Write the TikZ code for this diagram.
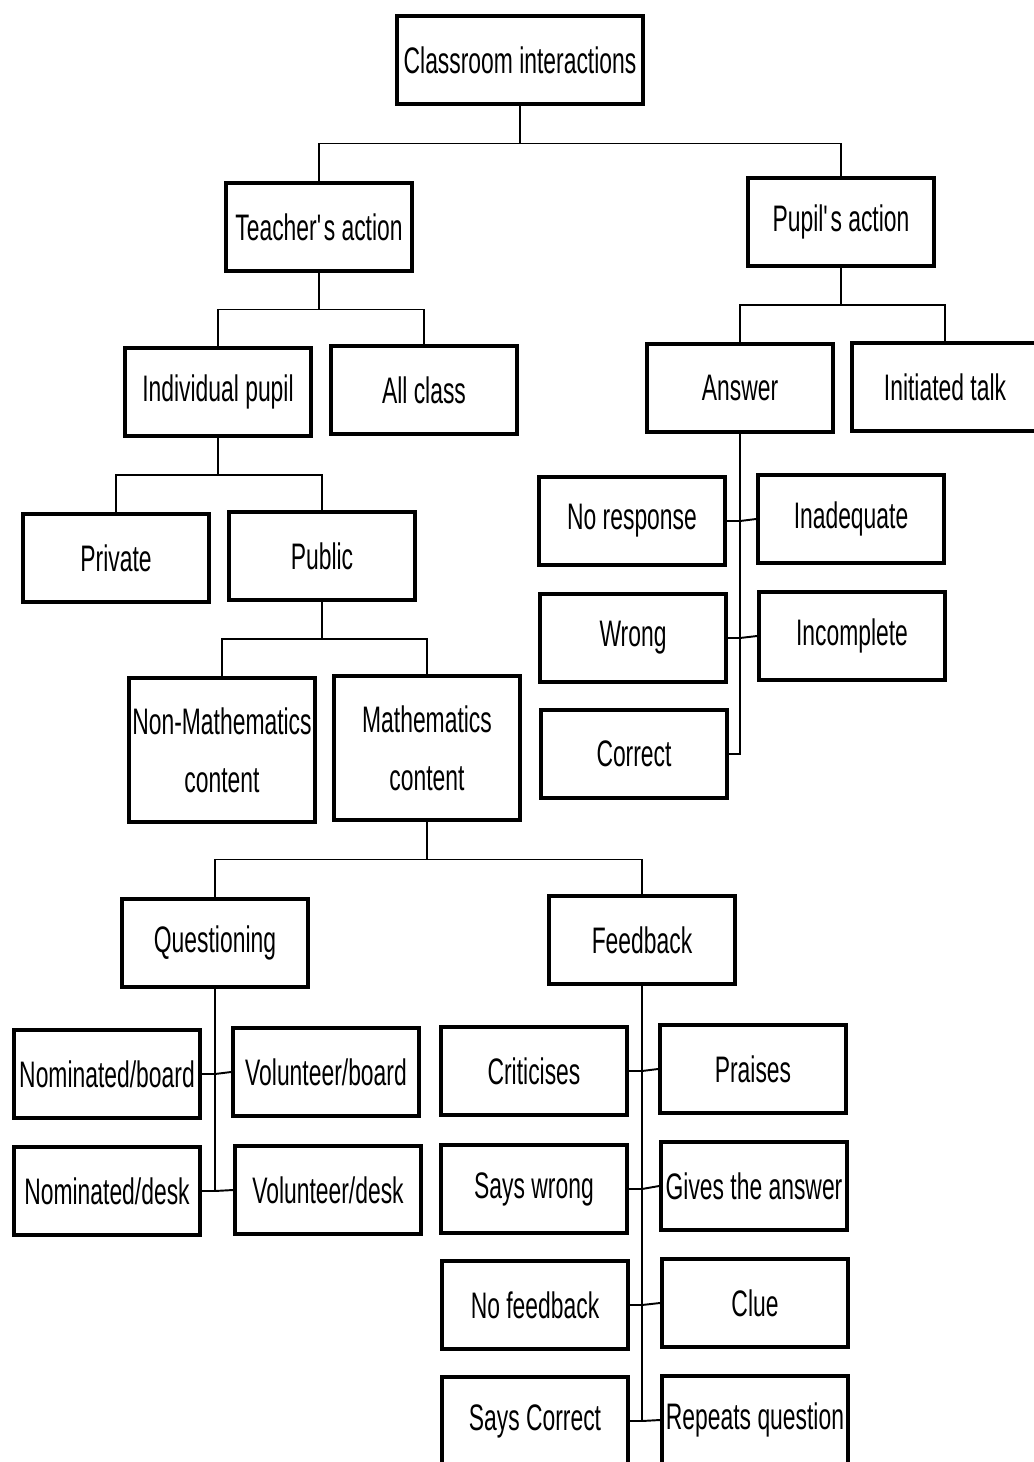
\documentclass[tikz,border=0pt]{standalone}
\usepackage{fontspec}
\setmainfont{Liberation Sans}[FakeStretch=0.62]
\usepackage{tikz}
\usetikzlibrary{positioning, calc}

\begin{document}
\begin{tikzpicture}[
    catbox/.style={rectangle, draw=black, line width=2.2pt, fill=white, minimum width=3.72cm, minimum height=1.76cm, align=center, inner sep=2pt, font=\fontsize{21}{33}\selectfont},
    tallbox/.style={catbox, minimum height=2.88cm},
    link/.style={draw=black, line width=1.1pt}
]
\useasboundingbox (0,0) rectangle (20.68,-29.24);

% Top levels
\node[catbox, minimum width=4.92cm] (root) at (10.4,-1.2) {Classroom interactions};
\node[catbox] (teacher) at (6.38,-4.54) {Teacher\textquotesingle s action};
\node[catbox] (pupil) at (16.82,-4.44) {Pupil\textquotesingle s action};

\node[catbox] (indiv) at (4.36,-7.84) {Individual pupil};
\node[catbox] (allclass) at (8.48,-7.8) {All class};
\node[catbox] (answer) at (14.8,-7.76) {Answer};
\node[catbox] (initiated) at (18.9,-7.74) {Initiated talk};

\node[catbox] (private) at (2.32,-11.16) {Private};
\node[catbox] (public) at (6.44,-11.12) {Public};

\node[tallbox] (nonmath) at (4.44,-15.0) {Non-Mathematics\\content};
\node[tallbox] (math) at (8.54,-14.96) {Mathematics\\content};

\node[catbox] (questioning) at (4.3,-18.86) {Questioning};
\node[catbox] (feedback) at (12.84,-18.8) {Feedback};

% Answer types
\node[catbox] (noresp) at (12.64,-10.42) {No response};
\node[catbox] (inadequate) at (17.02,-10.38) {Inadequate};
\node[catbox] (wrong) at (12.66,-12.76) {Wrong};
\node[catbox] (incomplete) at (17.04,-12.72) {Incomplete};
\node[catbox] (correct) at (12.68,-15.08) {Correct};

% Questioning types
\node[catbox] (nomboard) at (2.14,-21.48) {Nominated/board};
\node[catbox] (volboard) at (6.52,-21.44) {Volunteer/board};
\node[catbox] (nomdesk) at (2.14,-23.82) {Nominated/desk};
\node[catbox] (voldesk) at (6.56,-23.8) {Volunteer/desk};

% Feedback types
\node[catbox] (criticises) at (10.68,-21.42) {Criticises};
\node[catbox] (praises) at (15.06,-21.38) {Praises};
\node[catbox] (sayswrong) at (10.68,-23.78) {Says wrong};
\node[catbox] (gives) at (15.08,-23.72) {Gives the answer};
\node[catbox] (nofeed) at (10.7,-26.1) {No feedback};
\node[catbox] (clue) at (15.1,-26.06) {Clue};
\node[catbox] (sayscorrect) at (10.7,-28.42) {Says Correct};
\node[catbox] (repeats) at (15.1,-28.4) {Repeats question};

% Tree connectors
\foreach \p/\a/\b in {root/teacher/pupil, teacher/indiv/allclass, pupil/answer/initiated,
                      indiv/private/public, public/nonmath/math, math/questioning/feedback} {
  \path (\p.south) -- (\p.south |- \a.north) coordinate[pos=0.5] (\p-j);
  \draw[link] (\p.south) -- (\p-j);
  \draw[link] (\p-j) -| (\a.north);
  \draw[link] (\p-j) -| (\b.north);
}

% Side branches: trunk down, boxes hooked on left and right
\draw[link] (answer.south) |- (correct.east);
\foreach \l/\r in {noresp/inadequate, wrong/incomplete} {
  \draw[link] (\l.east) -- (\l.east -| answer.south) -- (\r.west);
}

\draw[link] (questioning.south) |- (nomdesk.east);
\foreach \l/\r in {nomboard/volboard, nomdesk/voldesk} {
  \draw[link] (\l.east) -- (\l.east -| questioning.south) -- (\r.west);
}

\draw[link] (feedback.south) -- (feedback.south |- sayscorrect.east);
\foreach \l/\r in {criticises/praises, sayswrong/gives, nofeed/clue, sayscorrect/repeats} {
  \draw[link] (\l.east) -- (\l.east -| feedback.south) -- (\r.west);
}

\end{tikzpicture}
\end{document}
